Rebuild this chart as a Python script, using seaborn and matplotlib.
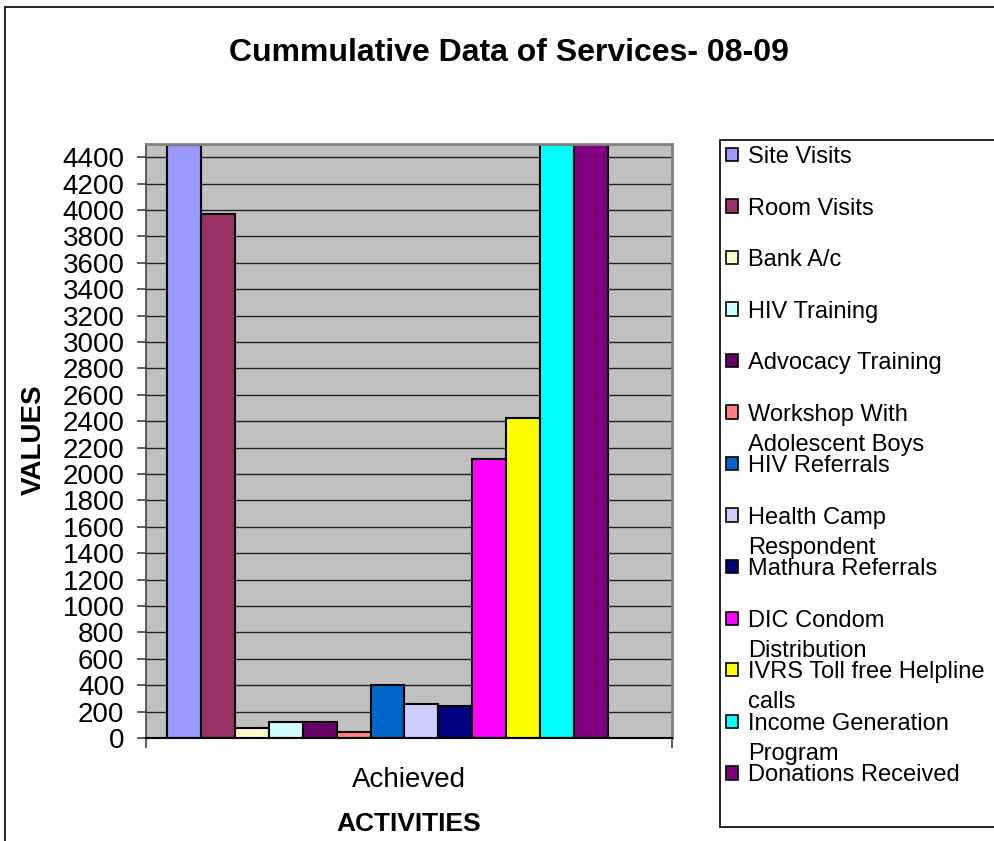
import matplotlib
matplotlib.use('Agg')
import matplotlib.pyplot as plt
import matplotlib.patches as mpatches
from matplotlib.transforms import IdentityTransform
import pandas as pd
import seaborn as sns

# chart values
activities = ['Site Visits', 'Room Visits', 'Bank A/c', 'HIV Training',
              'Advocacy Training', 'Workshop With Adolescent Boys', 'HIV Referrals',
              'Health Camp Respondent', 'Mathura Referrals', 'DIC Condom Distribution',
              'IVRS Toll free Helpline calls', 'Income Generation Program',
              'Donations Received']
achieved = [4490, 3970, 75, 120, 120, 45, 400, 260, 245, 2110, 2425, 4900, 5200]
colors = ['#9999FF', '#993366', '#FFFFCC', '#CCFFFF', '#660066', '#FF8080', '#0066CC',
          '#CCCCFF', '#000080', '#FF00FF', '#FFFF00', '#00FFFF', '#800080']
# legend text as wrapped in the original (first line, continuation)
legend_lines = [('Site Visits', ''), ('Room Visits', ''), ('Bank A/c', ''),
                ('HIV Training', ''), ('Advocacy Training', ''),
                ('Workshop With', 'Adolescent Boys'), ('HIV Referrals', ''),
                ('Health Camp', 'Respondent'), ('Mathura Referrals', ''),
                ('DIC Condom', 'Distribution'), ('IVRS Toll free Helpline', 'calls'),
                ('Income Generation', 'Program'), ('Donations Received', '')]
category = 'Achieved'
y_ticks = list(range(0, 4401, 200))

df = pd.DataFrame({'category': category, 'activity': activities, 'value': achieved})

sns.set_theme(style='white')
plt.rcParams['font.family'] = ['Liberation Sans', 'DejaVu Sans']
plt.rcParams['text.color'] = 'black'
plt.rcParams['axes.labelcolor'] = 'black'
plt.rcParams['xtick.color'] = 'black'
plt.rcParams['ytick.color'] = 'black'

fig = plt.figure(figsize=(9.95, 8.41), dpi=100)
ax = fig.add_axes([146 / 995, 103 / 841, 526 / 995, 594 / 841])

sns.barplot(data=df, x='category', y='value', hue='activity', hue_order=activities,
            palette=dict(zip(activities, colors)), edgecolor='black', linewidth=1.5,
            errorbar=None, legend=False, saturation=1, ax=ax)

ax.set_facecolor('#C0C0C0')
ax.set_ylim(0, 4500)
ax.set_xlim(-0.438, 0.516)
ax.set_yticks(y_ticks)
ax.set_yticklabels([str(v) for v in y_ticks], fontsize=20)
ax.yaxis.grid(True, color='#222222', linewidth=1)
ax.set_axisbelow(True)
ax.tick_params(axis='y', left=True, length=6.5, width=1.2, color='#444444', pad=9)

xl = ax.get_xlim()
ax.set_xticks([(xl[0] + xl[1]) / 2])
ax.set_xticklabels([category], fontsize=20)
ax.set_xticks(list(xl), minor=True)
ax.tick_params(axis='x', which='major', length=0, pad=21)
ax.tick_params(axis='x', which='minor', bottom=True, length=7, width=1.2, color='#444444')

for side in ['top', 'right']:
    ax.spines[side].set_color('#808080')
    ax.spines[side].set_linewidth(2)
ax.spines['left'].set_color('#444444')
ax.spines['left'].set_linewidth(1.2)
ax.spines['bottom'].set_color('black')
ax.spines['bottom'].set_linewidth(1.5)

ax.set_xlabel('ACTIVITIES', fontsize=19, fontweight='bold')
ax.xaxis.set_label_coords(0.5, -0.125)
ax.set_ylabel('VALUES', fontsize=20, fontweight='bold')
ax.yaxis.set_label_coords(-0.189, 0.503)

fig.suptitle('Cummulative Data of Services- 08-09', x=509 / 995, y=(841 - 53) / 841,
             va='center', fontsize=23, fontweight='bold')

# outer chart border
fig.patches.append(mpatches.Rectangle((5 / 995, -0.05), 1.1, (841 - 7) / 841 + 0.05,
                                      transform=fig.transFigure, fill=False,
                                      edgecolor='black', linewidth=1.2))
# legend box
fig.patches.append(mpatches.Rectangle((720 / 995, (841 - 827) / 841), 0.5, 687 / 841,
                                      transform=fig.transFigure, facecolor='white',
                                      edgecolor='black', linewidth=1.2))

handles = [mpatches.Patch(facecolor=c, edgecolor='black', linewidth=1.2) for c in colors]
leg = fig.legend(handles, [first for first, _ in legend_lines], loc='upper left',
                 bbox_to_anchor=(726 / 995, (841 - 146) / 841), frameon=False,
                 fontsize=17, handlelength=0.5, handleheight=0.5, handletextpad=0.45,
                 labelspacing=1.25, borderpad=0, borderaxespad=0)

fig.canvas.draw()
renderer = fig.canvas.get_renderer()
for txt, (_, cont) in zip(leg.get_texts(), legend_lines):
    if cont:
        bb = txt.get_window_extent(renderer)
        fig.text(bb.x0, bb.y0 - 30, cont, transform=IdentityTransform(),
                 fontsize=17, va='bottom', ha='left')

fig.savefig('out.png', dpi=100)
